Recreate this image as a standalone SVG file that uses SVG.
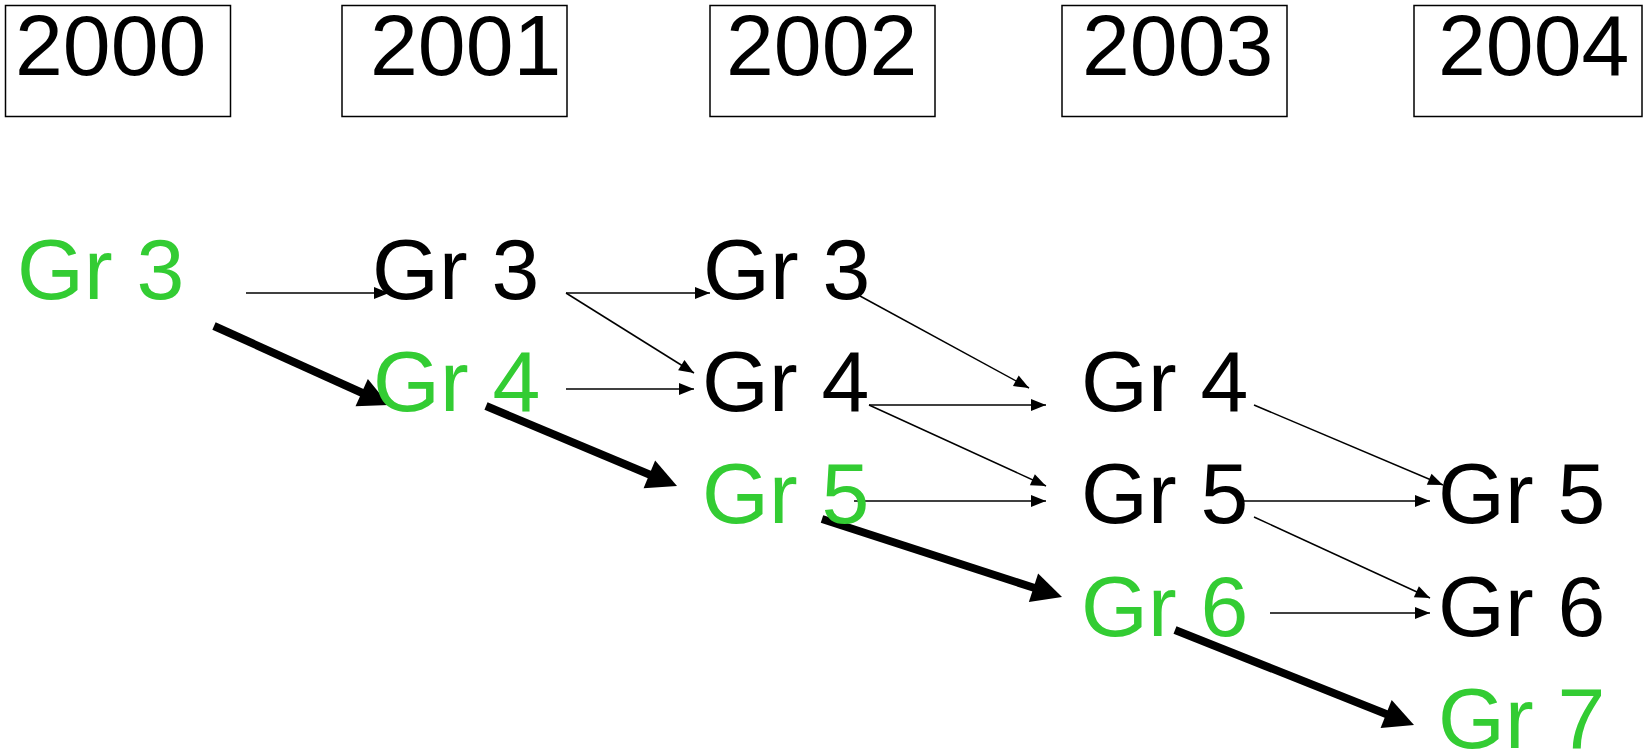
<svg xmlns="http://www.w3.org/2000/svg" width="1645" height="750" viewBox="0 0 1645 750">
<style>
.yb{fill:#fff;stroke:#000;stroke-width:1.5}
.t{font-family:"Liberation Sans",Arial,sans-serif;font-size:86px;fill:#000}
.g{fill:#33CC33}
.thin{stroke:#000;stroke-width:1.5;fill:none;marker-end:url(#ah)}
.thick{stroke:#000;stroke-width:8;fill:none;marker-end:url(#ahb)}
</style>
<defs>
<marker id="ah" markerUnits="userSpaceOnUse" markerWidth="15" markerHeight="12" refX="15" refY="6" orient="auto" overflow="visible">
<path d="M0,0 L15,6 L0,12 z" fill="#000"/>
</marker>
<marker id="ahb" markerUnits="userSpaceOnUse" markerWidth="30" markerHeight="30" refX="2" refY="15" orient="auto" overflow="visible">
<path d="M0,0 L30,15 L0,30 z" fill="#000"/>
</marker>
</defs>
<rect width="1645" height="750" fill="#fff"/>
<g id="y2000"><rect class="yb" x="5.5" y="5.5" width="225" height="111"/><text class="t" x="15" y="75">2000</text></g>
<g id="y2001"><rect class="yb" x="342" y="5.5" width="225" height="111"/><text class="t" x="370" y="75">2001</text></g>
<g id="y2002"><rect class="yb" x="710" y="5.5" width="225" height="111"/><text class="t" x="726" y="75">2002</text></g>
<g id="y2003"><rect class="yb" x="1062" y="5.5" width="225" height="111"/><text class="t" x="1082" y="75">2003</text></g>
<g id="y2004"><rect class="yb" x="1414" y="5.5" width="228" height="111"/><text class="t" x="1438" y="75">2004</text></g>
<g id="connectors">
<line class="thin" x1="246" y1="293" x2="389" y2="293"/>
<line class="thin" x1="566" y1="293" x2="710" y2="293"/>
<line class="thin" x1="566" y1="293" x2="694" y2="373"/>
<line class="thin" x1="566" y1="389" x2="694" y2="389"/>
<line class="thin" x1="860" y1="296" x2="1029" y2="388"/>
<line class="thin" x1="869" y1="405" x2="1046" y2="405"/>
<line class="thin" x1="869" y1="405" x2="1046" y2="486"/>
<line class="thin" x1="854" y1="501" x2="1046" y2="501"/>
<line class="thin" x1="1254" y1="405" x2="1443" y2="485"/>
<line class="thin" x1="1243" y1="501" x2="1430" y2="501"/>
<line class="thin" x1="1254" y1="517" x2="1430" y2="598"/>
<line class="thin" x1="1270" y1="613" x2="1430" y2="613"/>
<line class="thick" x1="214" y1="326" x2="363.5" y2="393.5"/>
<line class="thick" x1="486" y1="406" x2="651.2" y2="475.2"/>
<line class="thick" x1="822" y1="519" x2="1035.4" y2="588.3"/>
<line class="thick" x1="1175" y1="630" x2="1388" y2="714.7"/>
</g>
<g id="n2000_gr3"><text class="t g" x="17" y="299">Gr 3</text></g>
<g id="n2001_gr3"><text class="t" x="372" y="299">Gr 3</text></g>
<g id="n2001_gr4"><text class="t g" x="373" y="411">Gr 4</text></g>
<g id="n2002_gr3"><text class="t" x="703" y="299">Gr 3</text></g>
<g id="n2002_gr4"><text class="t" x="702" y="411">Gr 4</text></g>
<g id="n2002_gr5"><text class="t g" x="702" y="523">Gr 5</text></g>
<g id="n2003_gr4"><text class="t" x="1081" y="411">Gr 4</text></g>
<g id="n2003_gr5"><text class="t" x="1081" y="523">Gr 5</text></g>
<g id="n2003_gr6"><text class="t g" x="1081" y="636">Gr 6</text></g>
<g id="n2004_gr5"><text class="t" x="1438" y="523">Gr 5</text></g>
<g id="n2004_gr6"><text class="t" x="1438" y="636">Gr 6</text></g>
<g id="n2004_gr7"><text class="t g" x="1438" y="748">Gr 7</text></g>
</svg>
